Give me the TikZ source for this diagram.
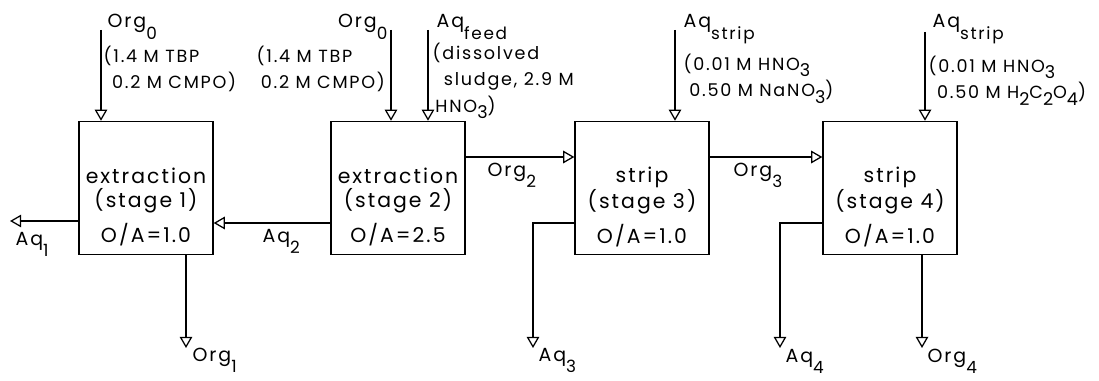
\documentclass[tikz,border=0pt]{standalone}
\usepackage{fontspec}
\setmainfont{Poppins}[LetterSpace=10]
\usetikzlibrary{arrows.meta}
\newcommand{\idx}[1]{\raisebox{-8.5pt}{\fontsize{12}{12}\selectfont #1}}
\newcommand{\sbs}[1]{\raisebox{-4.5pt}{#1}}

\begin{document}
\begin{tikzpicture}[x=0.025cm,y=-0.025cm,line width=0.9pt,
  stagebox/.style={draw,minimum width=3.35cm,minimum height=3.33cm,inner sep=0pt},
  stagetext/.style={align=center,font=\fontsize{14.5}{17}\selectfont,inner sep=0pt},
  tag/.style={font=\fontsize{13.5}{15}\selectfont,inner sep=0pt},
  note/.style={align=left,font=\fontsize{12.5}{19}\selectfont,inner sep=0pt},
  flow/.style={-{Triangle[open,length=8pt,width=9pt]}}]
  \useasboundingbox (0,0) rectangle (1099,381);
  % stages
  \foreach \i/\x/\kind/\oa in {1/146/extraction/1.0,2/398/extraction/2.5,3/642/strip/1.0,4/890/strip/1.0} {
    \node[stagebox] (s\i) at (\x,188) {};
    \node[stagetext] (t\i) at (\x,207) {\kind\\(stage \i)\\[6pt]O/A=\oa};
  }
  % free ends and rows
  \coordinate (o0a) at (101,30);
  \coordinate (o0b) at (391,30);
  \coordinate (af) at (428,30);
  \coordinate (as3) at (675,30);
  \coordinate (as4) at (925,32);
  \coordinate (aq1) at (10,221);
  \coordinate (o1) at (186,348);
  \coordinate (aq3) at (533,348);
  \coordinate (aq4) at (780,348);
  \coordinate (o4) at (922,348);
  \coordinate (lo) at (0,157);
  \coordinate (la) at (0,223);
  % feeds
  \draw[flow] (o0a) -- (o0a |- s1.north);
  \draw[flow] (o0b) -- (o0b |- s2.north);
  \draw[flow] (af) -- (af |- s2.north);
  \draw[flow] (as3) -- (as3 |- s3.north);
  \draw[flow] (as4) -- (as4 |- s4.north);
  % streams between and out of the stages
  \draw[flow] (s1.west |- aq1) -- (aq1);
  \draw[flow] (s2.west |- la) -- (s1.east |- la);
  \draw[flow] (o1 |- s1.south) -- (o1);
  \draw[flow] (s2.east |- lo) -- (s3.west |- lo);
  \draw[flow] (s3.east |- lo) -- (s4.west |- lo);
  \draw[flow] (s3.west |- la) -| (aq3);
  \draw[flow] (s4.west |- la) -| (aq4);
  \draw[flow] (o4 |- s4.south) -- (o4);
  % labels
  \node[tag,anchor=base west] (n0a) at (107,28) {Org\idx{0}};
  \node[note,anchor=north west] (c0a) at (103,45) {(1.4 M TBP\\\hspace*{6pt}0.2 M CMPO)};
  \node[tag,anchor=base east] (n0b) at (388,28) {Org\idx{0}};
  \node[note,anchor=north west] (c0b) at (256,45) {(1.4 M TBP\\\hspace*{3pt}0.2 M CMPO)};
  \node[tag,anchor=base west] (nf) at (436,28) {Aq\idx{feed}};
  \node[note,anchor=north west] (cf) at (432,42) {(dissolved\\\hspace*{8pt}sludge, 2.9 M\\\hspace*{2pt}HNO\sbs{3})};
  \node[tag,anchor=base west] (ns3) at (683,28) {Aq\idx{strip}};
  \node[note,anchor=north west] (cs3) at (683,53) {(0.01 M HNO\sbs{3}\\\hspace*{4pt}0.50 M NaNO\sbs{3})};
  \node[tag,anchor=base west] (ns4) at (932,28) {Aq\idx{strip}};
  \node[note,anchor=north west] (cs4) at (928,55) {(0.01 M HNO\sbs{3}\\\hspace*{6pt}0.50 M H\sbs{2}C\sbs{2}O\sbs{4})};
  \node[tag,anchor=base west] (naq1) at (15,245) {Aq\idx{1}};
  \node[tag,anchor=base west] (naq2) at (262,242) {Aq\idx{2}};
  \node[tag,anchor=base west] (no1) at (192,361) {Org\idx{1}};
  \node[tag,anchor=base west] (no2) at (487,176) {Org\idx{2}};
  \node[tag,anchor=base west] (no3) at (733,176) {Org\idx{3}};
  \node[tag,anchor=base west] (naq3) at (538,361) {Aq\idx{3}};
  \node[tag,anchor=base west] (naq4) at (785,362) {Aq\idx{4}};
  \node[tag,anchor=base west] (no4) at (927,362) {Org\idx{4}};
\end{tikzpicture}
\end{document}
